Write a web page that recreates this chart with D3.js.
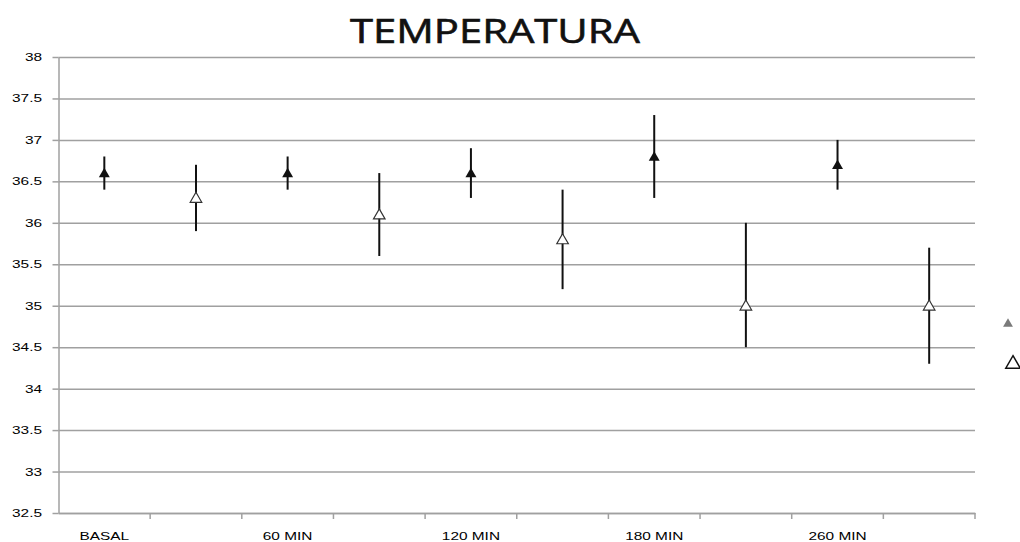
<!DOCTYPE html>
<html>
<head>
<meta charset="utf-8">
<script src="https://cdn.jsdelivr.net/npm/d3@7"></script>
<style>
  html, body { margin: 0; padding: 0; background: #fff; overflow: hidden; }
  svg { display: block; }
</style>
</head>
<body>
<svg id="chart"></svg>
<script>
// categories (odd ones have no visible label in the original)
const categories = ["BASAL", "", "60 MIN", "", "120 MIN", "", "180 MIN", "", "260 MIN", ""];
const yTicks = [32.5, 33, 33.5, 34, 34.5, 35, 35.5, 36, 36.5, 37, 37.5, 38];

// filled triangles
const filledMean = [36.6, null, 36.6, null, 36.6, null, 36.8, null, 36.7, null];
const filledLow  = [36.4, null, 36.4, null, 36.3, null, 36.3, null, 36.4, null];
const filledHigh = [36.8, null, 36.8, null, 36.9, null, 37.3, null, 37.0, null];

// open triangles
const openMean = [null, 36.3, null, 36.1, null, 35.8, null, 35.0, null, 35.0];
const openLow  = [null, 35.9, null, 35.6, null, 35.2, null, 34.5, null, 34.3];
const openHigh = [null, 36.7, null, 36.6, null, 36.4, null, 36.0, null, 35.7];

const W = 1020, H = 542;
const mLeft = 58.5, mRight = 975, mTop = 57, mBottom = 513;
const stretch = 1.4; // small labels are horizontally stretched in the original

const svg = d3.select("#chart").attr("width", W).attr("height", H);

const x = d3.scaleBand().domain(d3.range(categories.length)).range([mLeft, mRight]);
const y = d3.scaleLinear().domain([32.5, 38]).range([mBottom, mTop]);

// title
svg.append("text")
  .text("TEMPERATURA")
  .attr("x", 495).attr("y", 43)
  .attr("text-anchor", "middle")
  .attr("textLength", 290)
  .attr("lengthAdjust", "spacingAndGlyphs")
  .style("font-family", "'Open Sans', Lato, sans-serif")
  .style("font-size", "32px")
  .style("fill", "#111")
  .style("stroke", "#111")
  .style("stroke-width", 0.6);

// gridlines
svg.append("g")
  .attr("transform", "translate(" + mLeft + ",0)")
  .call(d3.axisLeft(y).tickValues(yTicks).tickSize(-(mRight - mLeft)).tickFormat(""))
  .call(g => g.select(".domain").remove())
  .call(g => g.selectAll("line").attr("stroke", "#a0a0a0").attr("stroke-width", 1.5));

// y axis
const yAxis = svg.append("g")
  .attr("transform", "translate(" + mLeft + ",0)")
  .call(d3.axisLeft(y).tickValues(yTicks).tickSize(6).tickSizeOuter(0).tickFormat(d3.format("")));
yAxis.select(".domain").attr("stroke", "#a0a0a0").attr("stroke-width", 1.5);
yAxis.selectAll("line").attr("stroke", "#a0a0a0").attr("stroke-width", 1.5);
yAxis.selectAll("text")
  .attr("x", -16.5 / stretch)
  .attr("transform", "scale(" + stretch + ",1)")
  .style("font-family", "'Liberation Sans', Arial, sans-serif")
  .style("font-size", "11px")
  .style("fill", "#000");

// x axis (labels centred in each category)
const xAxis = svg.append("g")
  .attr("transform", "translate(0," + mBottom + ")")
  .call(d3.axisBottom(x).tickSize(0).tickSizeOuter(0).tickFormat(i => categories[i]));
xAxis.select(".domain").attr("stroke", "#a0a0a0").attr("stroke-width", 1.5);
xAxis.selectAll(".tick text")
  .attr("y", 19)
  .attr("transform", "scale(" + stretch + ",1)")
  .style("font-family", "'Liberation Sans', Arial, sans-serif")
  .style("font-size", "11px")
  .style("fill", "#000");

// x tick marks on category boundaries
const bounds = d3.range(categories.length).map(i => x(i) + x.bandwidth());
xAxis.selectAll(".bound")
  .data(bounds)
  .enter()
  .append("line")
  .attr("class", "bound")
  .attr("x1", d => d).attr("x2", d => d)
  .attr("y1", 0).attr("y2", 6)
  .attr("stroke", "#a0a0a0").attr("stroke-width", 1.5);

const plot = svg.append("g");

function drawSeries(mean, low, high, filled, size) {
  const idx = d3.range(categories.length).filter(i => mean[i] != null);
  plot.selectAll(null)
    .data(idx)
    .enter()
    .append("line")
    .attr("x1", i => x(i) + x.bandwidth() / 2)
    .attr("x2", i => x(i) + x.bandwidth() / 2)
    .attr("y1", i => y(high[i]))
    .attr("y2", i => y(low[i]))
    .attr("stroke", "#111")
    .attr("stroke-width", 2);

  plot.selectAll(null)
    .data(idx)
    .enter()
    .append("path")
    .attr("d", d3.symbol(d3.symbolTriangle, size))
    .attr("transform", i => "translate(" + (x(i) + x.bandwidth() / 2) + "," + (y(mean[i]) + 1) + ")")
    .attr("fill", filled ? "#111" : "#fff")
    .attr("stroke", filled ? "none" : "#333")
    .attr("stroke-width", 1.2);
}

drawSeries(filledMean, filledLow, filledHigh, true, 52);
drawSeries(openMean, openLow, openHigh, false, 58);

// legend markers (labels fall outside the picture)
const legend = svg.append("g");
legend.append("path")
  .attr("d", d3.symbol(d3.symbolTriangle, 42))
  .attr("transform", "translate(1008,324)")
  .attr("fill", "#7a7a7a");
legend.append("path")
  .attr("d", d3.symbol(d3.symbolTriangle, 90))
  .attr("transform", "translate(1013,364)")
  .attr("fill", "#fff")
  .attr("stroke", "#111")
  .attr("stroke-width", 1.5);
</script>
</body>
</html>
